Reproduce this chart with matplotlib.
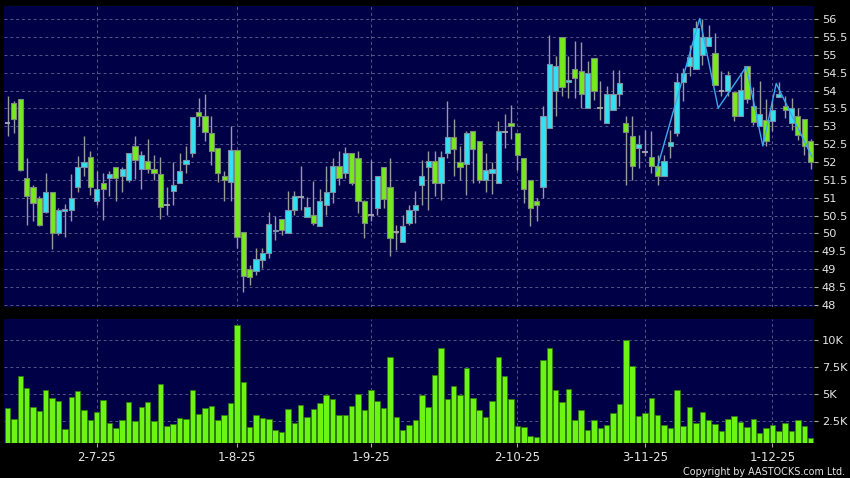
import numpy as np
import matplotlib.pyplot as plt

# daily OHLC (index 0 = first trading day shown)
opens = [53.09, 53.65, 53.76, 51.55, 51.3, 50.99, 50.6, 51.15, 50.01, 50.63,
         50.65, 51.3, 51.86, 52.14, 50.9, 51.41, 51.55, 51.86, 51.62, 51.5,
         52.44, 51.8, 52.04, 51.8, 51.67, 50.8, 51.18, 51.41, 51.94, 52.25,
         53.39, 53.28, 52.81, 52.38, 51.6, 51.43, 52.35, 50.04, 49.0, 48.94,
         49.27, 49.45, 50.06, 50.4, 50.01, 50.65, 51.02, 50.46, 50.52, 50.2,
         50.8, 51.15, 51.9, 51.69, 52.25, 52.11, 50.9, 50.52, 50.71, 51.86,
         51.3, 50.04, 49.76, 50.29, 50.65, 51.36, 51.86, 52.04, 51.41, 52.25,
         52.7, 51.99, 51.94, 52.88, 52.58, 51.5, 51.69, 51.41, 52.83, 53.09,
         52.81, 52.11, 51.49, 50.9, 51.3, 52.95, 54.0, 55.49, 54.24, 54.6,
         54.55, 53.51, 54.91, 53.51, 53.09, 53.46, 53.9, 53.09, 52.74, 52.39,
         52.27, 52.14, 51.88, 51.62, 52.44, 52.81, 54.24, 54.7, 54.6, 55.0,
         55.26, 55.05, 53.98, 54.0, 53.95, 53.3, 54.68, 53.58, 53.02, 53.18,
         53.14, 53.81, 53.58, 53.09, 53.28, 53.2, 52.58]
highs = [53.84, 53.7, 53.76, 52.11, 51.35, 51.05, 51.69, 51.15, 50.72, 50.83,
         51.67, 52.16, 52.72, 52.3, 51.74, 51.69, 51.74, 51.86, 51.86, 52.25,
         52.72, 52.32, 52.64, 52.2, 52.14, 51.3, 52.0, 52.25, 52.45, 53.26,
         53.8, 53.9, 53.28, 52.38, 51.74, 53.0, 52.35, 50.05, 49.12, 49.59,
         49.59, 50.6, 50.48, 50.4, 51.2, 51.2, 51.9, 51.02, 51.46, 51.24,
         51.88, 52.11, 52.3, 52.41, 52.25, 52.3, 50.95, 52.06, 51.62, 51.86,
         52.11, 50.24, 50.52, 50.8, 51.18, 52.06, 52.3, 52.3, 52.32, 53.7,
         53.2, 52.44, 52.86, 52.88, 52.58, 52.25, 52.0, 53.14, 53.35, 53.6,
         52.81, 52.11, 51.49, 51.0, 53.56, 55.56, 54.96, 55.49, 54.96, 55.4,
         55.37, 54.82, 54.91, 54.26, 54.12, 54.58, 54.58, 53.28, 53.28, 52.76,
         52.91, 52.86, 52.2, 52.2, 52.91, 54.49, 54.63, 55.28, 55.96, 56.0,
         55.84, 55.6, 54.54, 54.54, 53.95, 54.5, 54.68, 54.1, 54.26, 53.76,
         53.74, 54.23, 53.84, 53.79, 53.51, 53.2, 52.64]
lows = [52.74, 52.8, 51.74, 50.24, 50.34, 50.2, 50.57, 49.56, 49.97, 49.9,
        50.34, 51.15, 51.6, 51.08, 50.79, 50.38, 51.04, 50.9, 51.15, 51.45,
        51.52, 51.24, 51.7, 51.5, 50.4, 50.52, 50.8, 51.41, 51.7, 52.14,
        53.0, 52.58, 51.92, 51.43, 50.9, 50.9, 49.6, 48.35, 48.57, 48.85,
        49.04, 49.31, 49.83, 49.97, 50.01, 50.52, 50.65, 50.46, 50.25, 50.2,
        50.52, 50.85, 51.36, 51.55, 51.36, 50.57, 49.87, 50.34, 50.52, 50.71,
        49.36, 49.55, 49.76, 50.25, 50.3, 50.8, 50.66, 51.04, 50.95, 52.1,
        51.6, 51.5, 51.08, 51.41, 51.4, 51.15, 51.1, 51.41, 52.39, 52.64,
        51.78, 50.85, 50.2, 50.34, 50.99, 52.95, 53.28, 53.84, 53.8, 53.8,
        53.5, 53.51, 53.74, 53.18, 53.09, 53.46, 53.58, 51.36, 51.5, 51.83,
        52.18, 51.7, 51.36, 51.62, 52.11, 52.72, 53.7, 54.4, 54.6, 54.72,
        55.26, 54.16, 53.84, 53.84, 53.14, 53.3, 53.65, 53.04, 53.02, 52.44,
        52.88, 53.81, 53.23, 52.9, 52.63, 52.2, 51.81]
closes = [53.09, 53.2, 51.78, 51.04, 50.85, 50.24, 51.15, 50.01, 50.65, 50.68,
          50.98, 51.86, 52.0, 51.3, 51.24, 51.24, 51.67, 51.55, 51.8, 52.25,
          52.06, 52.2, 51.8, 51.69, 50.74, 50.8, 51.35, 51.74, 52.05, 53.26,
          53.28, 52.84, 52.31, 51.69, 51.5, 52.35, 49.9, 48.82, 48.78, 49.28,
          49.45, 50.27, 50.1, 50.1, 50.66, 51.04, 51.02, 50.74, 50.29, 50.9,
          51.15, 51.9, 51.55, 52.25, 51.41, 50.9, 50.29, 50.52, 51.62, 50.96,
          49.87, 50.04, 50.2, 50.65, 50.79, 51.6, 52.04, 51.41, 52.14, 52.7,
          52.36, 51.86, 52.81, 52.36, 51.5, 51.78, 51.8, 52.88, 52.83, 53.0,
          52.19, 51.24, 50.71, 50.79, 53.28, 54.74, 54.68, 54.1, 54.3, 54.35,
          53.9, 54.49, 54.0, 53.51, 53.9, 53.9, 54.21, 52.84, 51.9, 52.5,
          52.27, 51.9, 51.62, 52.04, 52.56, 54.23, 54.49, 54.94, 55.75, 55.49,
          55.49, 54.16, 53.98, 54.44, 53.3, 54.02, 53.77, 53.11, 53.34, 52.58,
          53.46, 53.9, 53.46, 53.51, 52.76, 52.46, 52.0]
volumes = [3727, 2748, 6634, 5563, 3819, 3452, 5410, 4614, 4370, 1830,
           4737, 5257, 3513, 2595, 3390, 4492, 2319, 1860, 2656, 4278,
           2564, 3819, 4308, 2564, 5930, 2074, 2258, 2809, 2686, 5410,
           3176, 3727, 3880, 2625, 3084, 4186, 11377, 6083, 1952, 3084,
           2840, 2748, 1677, 1554, 3635, 2350, 3972, 2870, 3666, 4186,
           4951, 4523, 3115, 3084, 3880, 4982, 3574, 5349, 4400, 3727,
           8409, 2870, 1738, 2135, 2656, 4935, 3788, 6787, 9266, 4584,
           5777, 4951, 7430, 4676, 3574, 2901, 4400, 8439, 6664, 4584,
           2105, 1983, 1157, 1095, 8164, 9204, 5349, 4278, 5502, 2656,
           3513, 1738, 2595, 1922, 2135, 3268, 4125, 9939, 7552, 3023,
           3268, 4645, 3115, 2166, 1922, 5410, 2105, 3788, 2350, 3360,
           2656, 2289, 1616, 2686, 2962, 2472, 1983, 2686, 1401, 1891,
           2166, 1616, 2350, 1616, 2595, 2044, 1004]

# thin swing line over the last stretch
swing_idx = [101.8, 108.6, 111.5, 115.9, 118.5, 120.6, 126.2]
swing_price = [51.75, 56.02, 53.51, 54.67, 52.45, 54.2, 52.15]

date_idx = [14, 36, 57, 80, 100, 120]
date_labels = ["2-7-25", "1-8-25", "1-9-25", "2-10-25", "3-11-25", "1-12-25"]
price_ticks = [48, 48.5, 49, 49.5, 50, 50.5, 51, 51.5, 52, 52.5, 53, 53.5, 54, 54.5, 55, 55.5, 56]
vol_ticks = [2500, 5000, 7500, 10000]
vol_labels = ["2.5K", "5K", "7.5K", "10K"]

bg = '#000046'
grid_kw = dict(color='#56568a', linestyle=(0, (3, 3)), linewidth=0.7)
txt = '#e6e6e6'

fig = plt.figure(figsize=(8.5, 4.78), dpi=100, facecolor='black')
W, H = 850, 478
ax = fig.add_axes([4 / W, 1 - 307 / H, 809.5 / W, 301 / H], facecolor=bg)
axv = fig.add_axes([4 / W, 1 - 443 / H, 809.5 / W, 124 / H], facecolor=bg)

x = np.arange(len(opens))
o = np.array(opens)
c = np.array(closes)
up = c > o + 0.02
dn = c < o - 0.02
flat = ~(up | dn)

# candles
ax.vlines(x, lows, highs, color='#9a9a9a', lw=1, zorder=2)
ax.bar(x[up], (c - o)[up], bottom=o[up], width=0.82, color='#33e2f2',
       edgecolor='#7a90a0', lw=0.8, zorder=3)
ax.bar(x[dn], (o - c)[dn], bottom=c[dn], width=0.82, color='#77ea1e',
       edgecolor='#7f8a7a', lw=0.8, zorder=3)
ax.hlines(c[flat], x[flat] - 0.45, x[flat] + 0.45, color='#aaaaaa', lw=1.3, zorder=3)
ax.plot(swing_idx, swing_price, color='#3aa8f0', lw=1, zorder=4)

ax.set_xlim(-0.55, 126.45)
ax.set_ylim(47.94, 56.37)
ax.yaxis.tick_right()
ax.set_yticks(price_ticks)
ax.set_yticklabels([f"{t:g}" for t in price_ticks])
ax.set_xticks(date_idx)
ax.tick_params(axis='x', length=0, labelbottom=False)
ax.tick_params(axis='y', colors='#aaaaaa', labelcolor=txt, labelsize=8.2,
               length=3, width=0.8, pad=3)
ax.grid(True, **grid_kw)
ax.set_axisbelow(True)
for s in ax.spines.values():
    s.set_visible(False)

# volume
axv.bar(x, volumes, width=0.86, color='#6cf514', edgecolor='#2e7a0c', lw=0.6, zorder=3)
axv.set_xlim(-0.55, 126.45)
axv.set_ylim(520, 11900)
axv.yaxis.tick_right()
axv.set_yticks(vol_ticks)
axv.set_yticklabels(vol_labels)
axv.set_xticks(date_idx)
axv.set_xticklabels(date_labels)
axv.tick_params(axis='y', colors='#aaaaaa', labelcolor=txt, labelsize=8.2,
                length=3, width=0.8, pad=3)
axv.tick_params(axis='x', colors='#aaaaaa', labelcolor=txt, labelsize=8.5,
                length=3, width=0.8, pad=3)
axv.grid(True, **grid_kw)
axv.set_axisbelow(True)
for s in axv.spines.values():
    s.set_visible(False)

fig.text(0.994, 0.013, "Copyright by AASTOCKS.com Ltd.", color=txt, fontsize=6.9,
         ha='right', va='center')

fig.savefig("out.png", dpi=100, facecolor='black')
